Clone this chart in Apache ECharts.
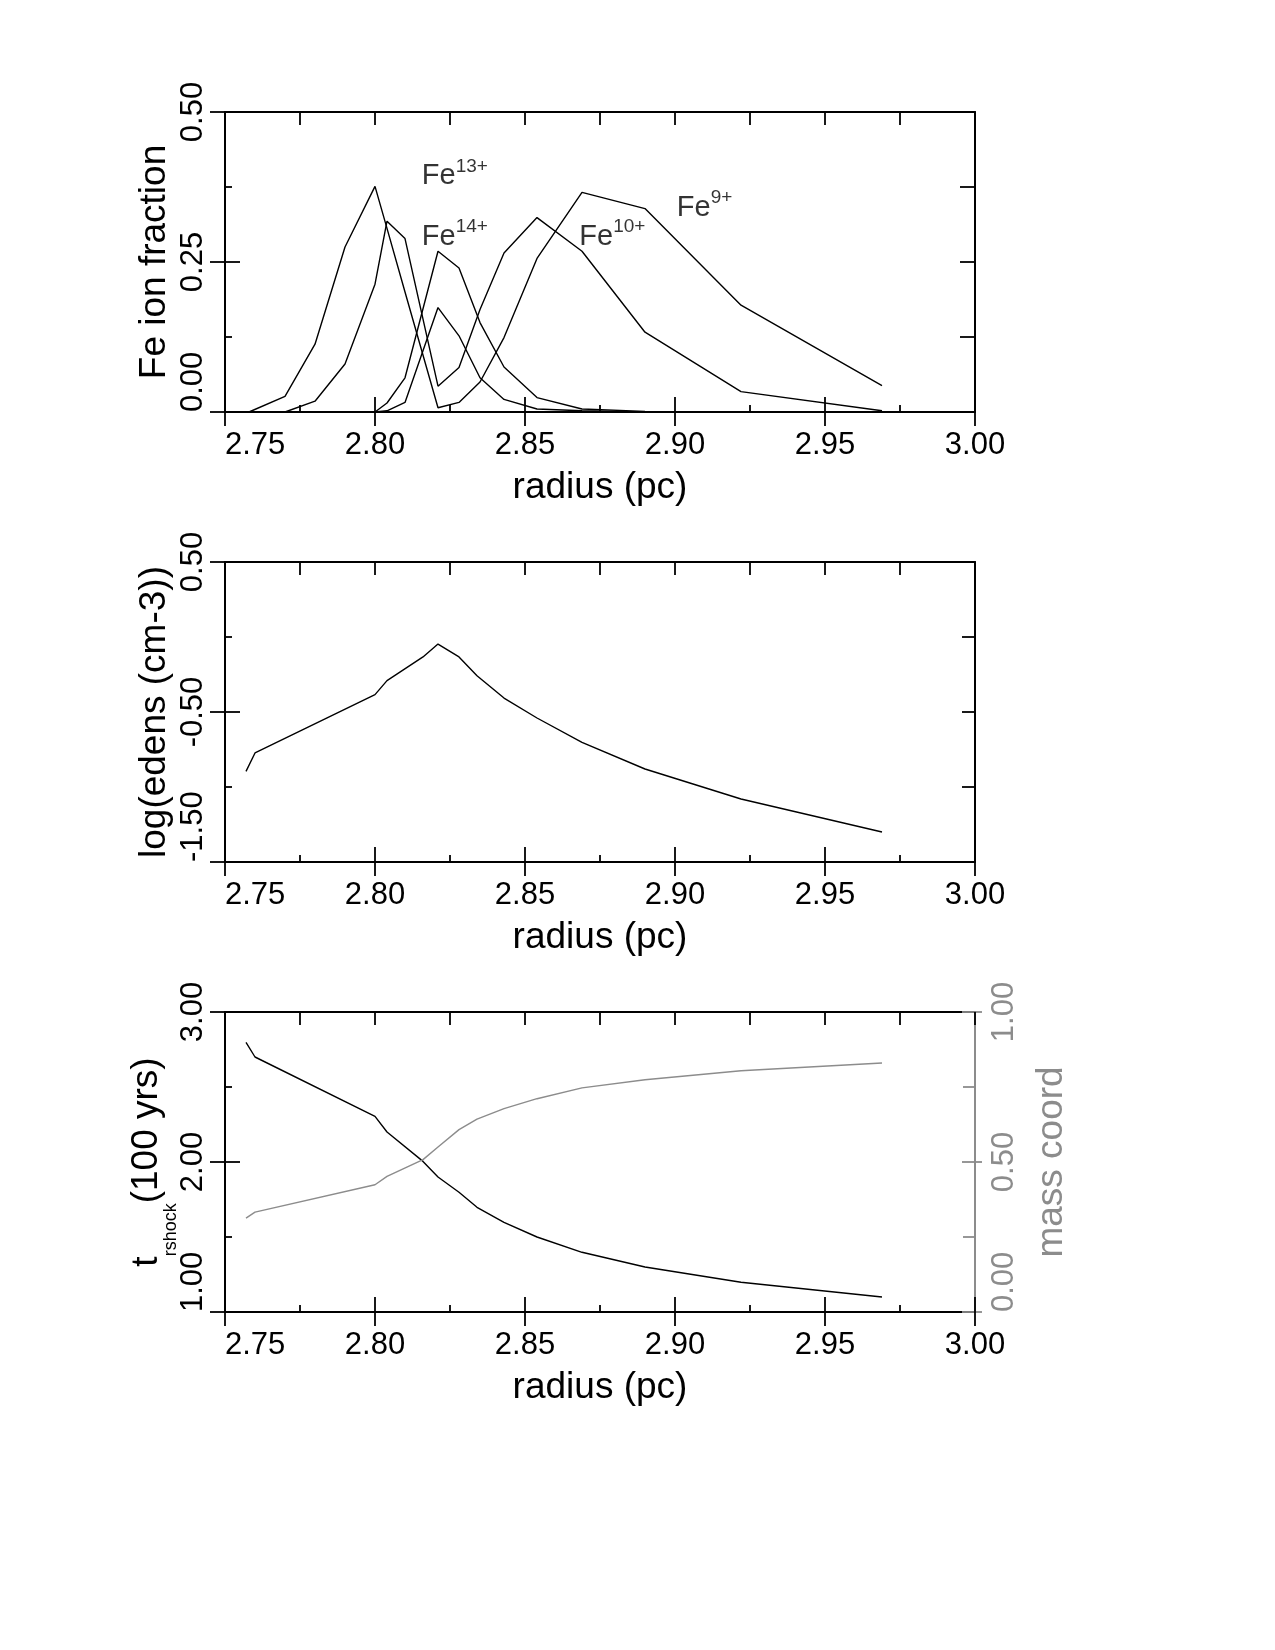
<!DOCTYPE html>
<html>
<head>
<meta charset="utf-8">
<script src="https://cdn.jsdelivr.net/npm/echarts@6/dist/echarts.min.js"></script>
<style>
  html, body { margin: 0; padding: 0; background: #ffffff; }
  #chart { width: 1275px; height: 1650px; }
</style>
</head>
<body>
<div id="chart"></div>
<script>
// ---- data ----
// top panel: Fe ion fractions vs radius (pc)
var rIon = [2.758, 2.770, 2.780, 2.790, 2.800, 2.804, 2.810, 2.821, 2.828, 2.835, 2.843, 2.854, 2.869, 2.890, 2.922, 2.969];
var fe9  = [0.000, 0.026, 0.113, 0.275, 0.376, 0.306, 0.200, 0.007, 0.016, 0.050, 0.124, 0.256, 0.366, 0.339, 0.178, 0.044];
var fe10 = [0.000, 0.000, 0.018, 0.080, 0.213, 0.318, 0.289, 0.043, 0.074, 0.171, 0.265, 0.324, 0.268, 0.133, 0.034, 0.002];
var fe13 = [0.000, 0.000, 0.000, 0.000, 0.000, 0.002, 0.016, 0.174, 0.127, 0.057, 0.021, 0.005, 0.002, 0.000, 0.000, 0.000];
var fe14 = [0.000, 0.000, 0.000, 0.000, 0.000, 0.015, 0.057, 0.268, 0.240, 0.149, 0.075, 0.024, 0.005, 0.001, 0.000, 0.000];

// ion labels: superscript, radius, fraction where the label sits
var ionLabels = [
  ['13+', 2.8156, 0.397],
  ['14+', 2.8156, 0.296],
  ['10+', 2.8681, 0.296],
  ['9+',  2.9006, 0.345]
];

// middle + bottom panels
var rProf     = [2.757, 2.760, 2.800, 2.804, 2.816, 2.821, 2.828, 2.834, 2.843, 2.854, 2.869, 2.890, 2.922, 2.969];
var logEdens  = [-0.896, -0.773, -0.384, -0.291, -0.133, -0.047, -0.133, -0.258, -0.407, -0.540, -0.702, -0.880, -1.080, -1.300];
var tShock    = [2.798, 2.700, 2.304, 2.200, 2.004, 1.900, 1.798, 1.698, 1.598, 1.500, 1.398, 1.300, 1.198, 1.100];
var massCoord = [0.313, 0.333, 0.424, 0.452, 0.508, 0.550, 0.608, 0.643, 0.678, 0.711, 0.747, 0.774, 0.804, 0.830];

// ticks (labelled majors, unlabelled minors)
var xMajor     = [2.75, 2.80, 2.85, 2.90, 2.95, 3.00];
var xMinor     = [2.775, 2.825, 2.875, 2.925, 2.975];
var ionTicks   = [0, 0.25, 0.5];
var ionMinor   = [0.125, 0.375];
var edensTicks = [-1.5, -0.5, 0.5];
var edensMinor = [-1, 0];
var tTicks     = [1, 2, 3];
var tMinor     = [1.5, 2.5];
var massTicks  = [0, 0.5, 1];
var massMinor  = [0.25, 0.75];

// ---- chart ----
var FONT = '"Liberation Sans", Arial, Helvetica, sans-serif';
var BLACK = '#000000';
var GRAY = '#8c8c8c';
var panelTops = [112, 562, 1012];

var grids = [], xAxes = [], yAxes = [], series = [];

function fmt2(v) { return Number(v).toFixed(2); }
function pairs(xs, ys) { return xs.map(function (x, i) { return [x, ys[i]]; }); }
function merged(a, b) { return a.concat(b).sort(function (p, q) { return p - q; }); }
function tickLine(c) { return { color: c, width: 1.8 }; }
function noLine() { return { show: false, onZero: false }; }

function addX(g) {
  var base = { gridIndex: g, type: 'value', min: 2.75, max: 3.0, splitLine: { show: false } };
  var main = xAxes.length;
  xAxes.push(Object.assign({}, base, {
    position: 'bottom',
    axisLine: { onZero: false, lineStyle: { color: BLACK, width: 2 } },
    axisTick: { inside: true, length: 15, customValues: xMajor, lineStyle: tickLine(BLACK) },
    axisLabel: { customValues: xMajor, fontSize: 31, fontFamily: FONT, color: BLACK, margin: 18,
      alignMinLabel: 'left', formatter: fmt2 },
    name: 'radius (pc)', nameLocation: 'middle', nameGap: 57, nameMoveOverlap: false,
    nameTextStyle: { fontSize: 37, fontFamily: FONT, color: BLACK }
  }));
  // short inner minor ticks
  xAxes.push(Object.assign({}, base, {
    position: 'bottom', axisLine: noLine(), axisLabel: { show: false },
    axisTick: { inside: true, length: 7, customValues: xMinor, lineStyle: tickLine(BLACK) }
  }));
  // outer half of the crossing major ticks
  xAxes.push(Object.assign({}, base, {
    position: 'bottom', axisLine: noLine(), axisLabel: { show: false },
    axisTick: { inside: false, length: 14, customValues: xMajor, lineStyle: tickLine(BLACK) }
  }));
  // top frame
  xAxes.push(Object.assign({}, base, {
    position: 'top',
    axisLine: { onZero: false, lineStyle: { color: BLACK, width: 2 } },
    axisLabel: { show: false },
    axisTick: { inside: true, length: 13, customValues: merged(xMajor, xMinor), lineStyle: tickLine(BLACK) }
  }));
  return main;
}

function addY(g, o) {
  var c = o.color || BLACK;
  var base = { gridIndex: g, type: 'value', position: o.pos, min: o.min, max: o.max, splitLine: { show: false } };
  var main = yAxes.length;
  yAxes.push(Object.assign({}, base, {
    axisLine: { onZero: false, lineStyle: { color: c, width: 2 } },
    axisTick: { inside: true, length: o.inLen, customValues: o.ticks, lineStyle: tickLine(c) },
    axisLabel: {
      customValues: o.ticks, rotate: 90, margin: o.margin, fontSize: 31, fontFamily: FONT, color: c,
      alignMinLabel: 'left', formatter: fmt2
    },
    name: o.name, nameLocation: 'middle', nameRotate: 90, nameGap: o.nameGap, nameMoveOverlap: false,
    nameTextStyle: { fontSize: 37, lineHeight: 37, fontFamily: FONT, color: c, rich: o.rich || {} }
  }));
  // short inner minor ticks
  yAxes.push(Object.assign({}, base, {
    axisLine: noLine(), axisLabel: { show: false },
    axisTick: { inside: true, length: o.minorLen, customValues: o.minor, lineStyle: tickLine(c) }
  }));
  // outer half of the crossing major ticks
  yAxes.push(Object.assign({}, base, {
    axisLine: noLine(), axisLabel: { show: false },
    axisTick: { inside: false, length: o.outLen, customValues: o.ticks, lineStyle: tickLine(c) }
  }));
  return main;
}

function addRightFrame(g, min, max, ticks, len) {
  yAxes.push({
    gridIndex: g, type: 'value', position: 'right', min: min, max: max,
    splitLine: { show: false },
    axisLine: { onZero: false, lineStyle: { color: BLACK, width: 2 } },
    axisLabel: { show: false },
    axisTick: { inside: true, length: len, customValues: ticks, lineStyle: tickLine(BLACK) }
  });
}

function addLine(name, xs, ys, xi, yi, color) {
  series.push({
    name: name, type: 'line', xAxisIndex: xi, yAxisIndex: yi,
    data: pairs(xs, ys), symbol: 'none', silent: true, animation: false,
    lineStyle: { color: color, width: 1.4 }, z: 3
  });
}

panelTops.forEach(function (t) {
  grids.push({ left: 225, top: t, width: 750, height: 300, containLabel: false });
});

// panel 1: ion fractions
var x0 = addX(0);
var y0 = addY(0, { pos: 'left', min: 0, max: 0.5, ticks: ionTicks, minor: ionMinor, inLen: 15, outLen: 15, minorLen: 7,
  margin: 16, name: 'Fe ion fraction', nameGap: 52 });
addRightFrame(0, 0, 0.5, merged(ionTicks, ionMinor), 15);
addLine('Fe9+', rIon, fe9, x0, y0, BLACK);
addLine('Fe10+', rIon, fe10, x0, y0, BLACK);
addLine('Fe13+', rIon, fe13, x0, y0, BLACK);
addLine('Fe14+', rIon, fe14, x0, y0, BLACK);
series.push({
  type: 'scatter', xAxisIndex: x0, yAxisIndex: y0, silent: true, animation: false,
  symbolSize: 0,
  data: ionLabels.map(function (l) { return { value: [l[1], l[2]], sup: l[0] }; }),
  label: {
    show: true, position: 'right', distance: 0, color: BLACK,
    formatter: function (p) { return '{b|Fe}{s|' + p.data.sup + '}'; },
    rich: {
      b: { fontSize: 29, lineHeight: 29, fontFamily: FONT, color: BLACK, verticalAlign: 'bottom' },
      s: { fontSize: 19, lineHeight: 34, fontFamily: FONT, color: BLACK, verticalAlign: 'top' }
    }
  }
});

// panel 2: electron density
var x1 = addX(1);
var y1 = addY(1, { pos: 'left', min: -1.5, max: 0.5, ticks: edensTicks, minor: edensMinor, inLen: 15, outLen: 15, minorLen: 7,
  margin: 16, name: 'log(edens (cm-3))', nameGap: 52 });
addRightFrame(1, -1.5, 0.5, merged(edensTicks, edensMinor), 13);
addLine('log edens', rProf, logEdens, x1, y1, BLACK);

// panel 3: time since reverse shock + mass coordinate
var x2 = addX(2);
var y2 = addY(2, { pos: 'left', min: 1, max: 3, ticks: tTicks, minor: tMinor, inLen: 15, outLen: 15, minorLen: 7,
  margin: 16, name: '{m|t}{s|rshock}{m|(100 yrs)}', nameGap: 45,
  rich: {
    m: { fontSize: 37, lineHeight: 37, fontFamily: FONT, color: BLACK, verticalAlign: 'top' },
    s: { fontSize: 18, lineHeight: 52, fontFamily: FONT, color: BLACK, verticalAlign: 'bottom' }
  } });
var y3 = addY(2, { pos: 'right', color: GRAY, min: 0, max: 1, ticks: massTicks, minor: massMinor, inLen: 13, outLen: 7, minorLen: 12,
  margin: 14, name: 'mass coord', nameGap: 58 });
addLine('t rshock', rProf, tShock, x2, y2, BLACK);
addLine('mass coord', rProf, massCoord, x2, y3, GRAY);

var myChart = echarts.init(document.getElementById('chart'));
myChart.setOption({
  backgroundColor: '#ffffff',
  animation: false,
  textStyle: { fontFamily: FONT },
  grid: grids,
  xAxis: xAxes,
  yAxis: yAxes,
  series: series
});
</script>
</body>
</html>
